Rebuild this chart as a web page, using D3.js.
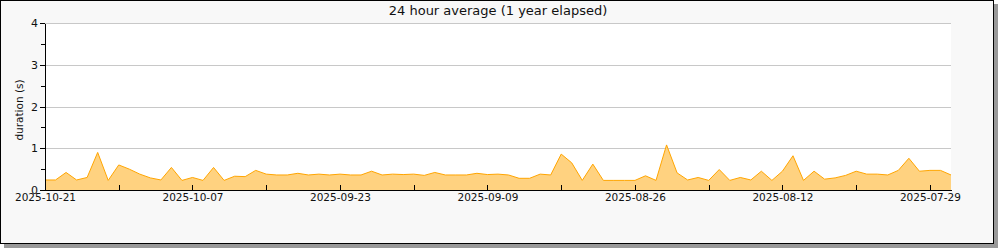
<!DOCTYPE html>
<html>
<head>
<meta charset="utf-8">
<script src="https://cdn.jsdelivr.net/npm/d3@7"></script>
<style>
  body { margin: 0; background: #fff; }
  svg text { font-family: "DejaVu Sans", sans-serif; fill: #111; }
</style>
</head>
<body>
<svg id="chart" width="1000" height="250"></svg>
<script>
// ---- DATA ---- //
// daily averages, newest first (starting 2025-10-21)
const firstDay = "2025-10-21";
const durations = [
  0.24, 0.24, 0.42, 0.24, 0.30, 0.90, 0.23, 0.60, 0.50, 0.38,
  0.29, 0.24, 0.54, 0.23, 0.30, 0.23, 0.54, 0.23, 0.33, 0.32,
  0.47, 0.38, 0.36, 0.36, 0.40, 0.36, 0.38, 0.36, 0.38, 0.36,
  0.36, 0.45, 0.36, 0.38, 0.37, 0.38, 0.35, 0.42, 0.36, 0.36,
  0.36, 0.40, 0.37, 0.38, 0.36, 0.28, 0.28, 0.38, 0.36, 0.86,
  0.65, 0.23, 0.62, 0.23, 0.23, 0.23, 0.23, 0.34, 0.23, 1.08,
  0.41, 0.24, 0.30, 0.23, 0.49, 0.23, 0.30, 0.24, 0.45, 0.23,
  0.45, 0.82, 0.23, 0.45, 0.26, 0.29, 0.35, 0.45, 0.38, 0.38,
  0.36, 0.47, 0.76, 0.45, 0.47, 0.47, 0.36
];
const xTickLabels = ["2025-10-21", "2025-10-07", "2025-09-23", "2025-09-09", "2025-08-26", "2025-08-12", "2025-07-29"];
const xMinorTicks = ["2025-10-14", "2025-09-30", "2025-09-16", "2025-09-02", "2025-08-19", "2025-08-05"];
const yTicks = [0, 1, 2, 3, 4];
const yMinorTicks = [0.5, 1.5, 2.5, 3.5];
const title = "24 hour average (1 year elapsed)";
const yLabel = "duration (s)";

const parseDay = d3.utcParse("%Y-%m-%d");
const start = parseDay(firstDay);
const points = durations.map((v, i) => ({date: d3.utcDay.offset(start, -i), value: v}));

// ---- LAYOUT ---- //
const plot = {left: 45, right: 951, top: 23, bottom: 190};
const svg = d3.select("#chart");

// frame with drop shadow
svg.append("rect")
  .attr("x", 4).attr("y", 4)
  .attr("width", 994).attr("height", 244)
  .attr("fill", "#999");
svg.append("rect")
  .attr("x", 0.5).attr("y", 0.5)
  .attr("width", 993).attr("height", 243)
  .attr("fill", "#f8f8f8")
  .attr("stroke", "#000");

svg.append("rect")
  .attr("x", plot.left).attr("y", plot.top)
  .attr("width", plot.right - plot.left).attr("height", plot.bottom - plot.top)
  .attr("fill", "#fff");

// scales
const xScale = d3.scaleUtc()
  .domain([start, d3.utcDay.offset(start, -(durations.length - 1))])
  .range([plot.left, plot.right]);
const yScale = d3.scaleLinear()
  .domain([0, 4])
  .range([plot.bottom, plot.top]);

// grid
svg.append("g")
  .selectAll("line")
  .data(yTicks.filter(t => t > 0))
  .enter().append("line")
    .attr("x1", plot.left)
    .attr("x2", plot.right)
    .attr("y1", d => Math.round(yScale(d)) + 0.5)
    .attr("y2", d => Math.round(yScale(d)) + 0.5)
    .attr("stroke", "#c8c8c8");

// area
const area = d3.area()
  .x(d => xScale(d.date))
  .y0(yScale(0))
  .y1(d => yScale(d.value));
const line = d3.line()
  .x(d => xScale(d.date))
  .y(d => yScale(d.value));

svg.append("path")
  .datum(points)
  .attr("d", area)
  .attr("fill", "#ffd280");
svg.append("path")
  .datum(points)
  .attr("d", line)
  .attr("fill", "none")
  .attr("stroke", "#ffa500")
  .attr("stroke-width", 1);

// ---- AXES ---- //
const xAxis = d3.axisBottom(xScale)
  .tickValues(xTickLabels.map(parseDay))
  .tickFormat(d3.utcFormat("%Y-%m-%d"))
  .tickSizeInner(-5)
  .tickSizeOuter(0)
  .tickPadding(4);
const gx = svg.append("g")
  .attr("transform", "translate(0," + plot.bottom + ")")
  .call(xAxis);
gx.selectAll("text").attr("font-size", 10.5).attr("font-family", "DejaVu Sans");

svg.append("g")
  .attr("transform", "translate(0," + plot.bottom + ")")
  .call(d3.axisBottom(xScale)
    .tickValues(xMinorTicks.map(parseDay))
    .tickFormat("")
    .tickSizeInner(-5)
    .tickSizeOuter(0))
  .select(".domain").remove();

const yAxis = d3.axisLeft(yScale)
  .tickValues(yTicks)
  .tickFormat(d3.format("d"))
  .tickSizeInner(5)
  .tickSizeOuter(0)
  .tickPadding(2);
const gy = svg.append("g")
  .attr("transform", "translate(" + plot.left + ",0)")
  .call(yAxis);
gy.selectAll("text").attr("font-size", 11).attr("font-family", "DejaVu Sans");

svg.append("g")
  .attr("transform", "translate(" + plot.left + ",0)")
  .call(d3.axisLeft(yScale)
    .tickValues(yMinorTicks)
    .tickFormat("")
    .tickSizeInner(4)
    .tickSizeOuter(0))
  .select(".domain").remove();

svg.selectAll(".domain, .tick line").attr("stroke", "#000").attr("shape-rendering", "crispEdges");

// ---- TEXT ---- //
svg.append("text")
  .attr("x", 498)
  .attr("y", 15)
  .attr("text-anchor", "middle")
  .attr("font-size", 13)
  .text(title);

svg.append("text")
  .attr("transform", "translate(23,110) rotate(-90)")
  .attr("text-anchor", "middle")
  .attr("font-size", 10.5)
  .text(yLabel);
</script>
</body>
</html>
